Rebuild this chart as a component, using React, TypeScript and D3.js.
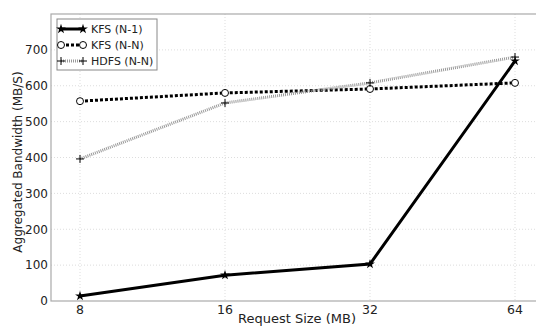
import React, { useEffect, useRef } from "react";
import * as d3 from "d3";

const requestSizes = [8, 16, 32, 64];
const kfsN1 = [14, 72, 103, 669];
const kfsNN = [557, 580, 591, 608];
const hdfsNN = [396, 552, 608, 680];
const yTicks = [0, 100, 200, 300, 400, 500, 600, 700];

const series = [
  { name: "KFS (N-1)", values: kfsN1, color: "#000", dash: null, marker: "star" },
  { name: "KFS (N-N)", values: kfsNN, color: "#000", dash: "3,2", marker: "circle" },
  { name: "HDFS (N-N)", values: hdfsNN, color: "#999", dash: "1,1", marker: "plus" },
];

const App = () => {
  const ref = useRef<SVGSVGElement>(null);

  useEffect(() => {
    const svg = d3.select(ref.current);
    svg.selectAll("*").remove();

    const width = 536;
    const height = 327;
    const left = 51;
    const top = 14;
    const bottom = 301;
    const right = 544;

    svg.attr("width", width).attr("height", height);

    const x = d3.scaleLog().base(2).domain([Math.pow(2, 2.8), Math.pow(2, 6.2)]).range([left, right]);
    const y = d3.scaleLinear().domain([0, 800]).range([bottom, top]);

    const font = "DejaVu Sans, sans-serif";

    // grid
    const grid = svg.append("g");
    grid.selectAll("line.gx")
      .data(requestSizes)
      .enter()
      .append("line")
      .attr("x1", (d) => x(d))
      .attr("x2", (d) => x(d))
      .attr("y1", top)
      .attr("y2", bottom)
      .attr("stroke", "#ddd")
      .attr("stroke-dasharray", "1,2");
    grid.selectAll("line.gy")
      .data(yTicks.slice(1))
      .enter()
      .append("line")
      .attr("x1", left)
      .attr("x2", right)
      .attr("y1", (d) => y(d))
      .attr("y2", (d) => y(d))
      .attr("stroke", "#ddd")
      .attr("stroke-dasharray", "1,2");

    // frame
    svg.append("rect")
      .attr("x", left)
      .attr("y", top)
      .attr("width", right - left)
      .attr("height", bottom - top)
      .attr("fill", "none")
      .attr("stroke", "#aaa")
      .attr("stroke-width", 1.2);

    // tick labels
    svg.append("g")
      .selectAll("text")
      .data(yTicks)
      .enter()
      .append("text")
      .attr("x", left - 3)
      .attr("y", (d) => y(d))
      .attr("dy", "0.36em")
      .attr("text-anchor", "end")
      .attr("font-family", font)
      .attr("font-size", 12)
      .attr("fill", "#222")
      .text((d) => d);

    svg.append("g")
      .selectAll("text")
      .data(requestSizes)
      .enter()
      .append("text")
      .attr("x", (d) => x(d))
      .attr("y", bottom + 13)
      .attr("text-anchor", "middle")
      .attr("font-family", font)
      .attr("font-size", 12.5)
      .attr("fill", "#222")
      .text((d) => d);

    svg.append("text")
      .attr("x", 297)
      .attr("y", 323)
      .attr("text-anchor", "middle")
      .attr("font-family", font)
      .attr("font-size", 13)
      .attr("fill", "#222")
      .text("Request Size (MB)");

    svg.append("text")
      .attr("transform", `translate(22,162) rotate(-90)`)
      .attr("text-anchor", "middle")
      .attr("font-family", font)
      .attr("font-size", 12)
      .attr("fill", "#222")
      .text("Aggregated Bandwidth (MB/S)");

    const drawMarker = (g, kind, cx, cy, color) => {
      if (kind === "circle") {
        g.append("circle").attr("cx", cx).attr("cy", cy).attr("r", 3.5)
          .attr("fill", "#fff").attr("stroke", color).attr("stroke-width", 1);
      } else if (kind === "plus") {
        g.append("path").attr("d", `M${cx - 4},${cy}H${cx + 4}M${cx},${cy - 4}V${cy + 4}`)
          .attr("stroke", "#000").attr("stroke-width", 1);
      } else {
        g.append("path")
          .attr("d", d3.symbol().type(d3.symbolStar).size(30)())
          .attr("transform", `translate(${cx},${cy})`)
          .attr("fill", color);
      }
    };

    const line = d3.line<number>()
      .x((d, i) => x(requestSizes[i]))
      .y((d) => y(d));

    series.forEach((s) => {
      const g = svg.append("g");
      g.append("path")
        .datum(s.values)
        .attr("d", line)
        .attr("fill", "none")
        .attr("stroke", s.color)
        .attr("stroke-width", 3)
        .attr("stroke-dasharray", s.dash);
      s.values.forEach((v, i) => drawMarker(g, s.marker, x(requestSizes[i]), y(v), s.color));
    });

    // legend
    const lg = svg.append("g");
    lg.append("rect")
      .attr("x", 57).attr("y", 19).attr("width", 100).attr("height", 51)
      .attr("fill", "#fff").attr("stroke", "#888").attr("stroke-width", 1);
    series.forEach((s, i) => {
      const cy = 29 + i * 16;
      lg.append("line")
        .attr("x1", 61).attr("x2", 83).attr("y1", cy).attr("y2", cy)
        .attr("stroke", s.color).attr("stroke-width", 3)
        .attr("stroke-dasharray", s.dash);
      drawMarker(lg, s.marker, 61, cy, s.color);
      drawMarker(lg, s.marker, 83, cy, s.color);
      lg.append("text")
        .attr("x", 91).attr("y", cy).attr("dy", "0.36em")
        .attr("font-family", font).attr("font-size", 11).attr("fill", "#222")
        .text(s.name);
    });
  }, []);

  return <svg ref={ref} style={{ position: "absolute", left: 0, top: 0 }}></svg>;
};

export default App;
